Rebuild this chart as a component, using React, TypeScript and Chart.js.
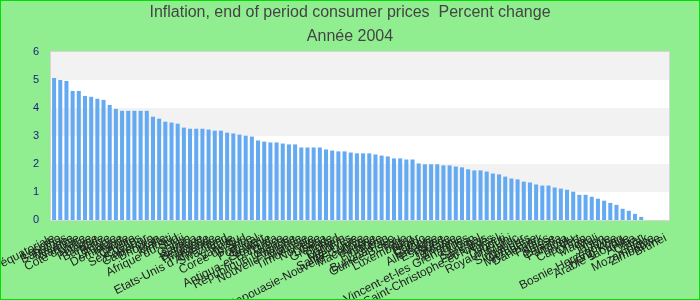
import React, { useEffect, useRef } from "react";
import { Chart, registerables } from "chart.js";

Chart.register(...registerables);

const titleLines = ["Inflation, end of period consumer prices  Percent change", "Année 2004"];

const countries = [
  "Guinée équatoriale", "Lesotho", "Bahamas", "Maurice", "Namibie",
  "Côte d'Ivoire", "Tunisie", "Pologne", "Barbade", "Belize",
  "Lituanie", "Dominique", "Irlande", "Chypre", "Seychelles",
  "Salvador", "Cameroun", "Bhoutan", "Malte", "Kiribati",
  "Afrique du Sud", "Fidji", "Gabon", "Samoa", "Belgique",
  "Thaïlande", "Islande", "Etats-Unis d'Amérique", "Swaziland", "Italie",
  "Vanuatu", "Corée du Sud", "France", "Portugal", "Koweït",
  "Slovénie", "Antigua-et-Barbuda", "Grèce", "République tchèque", "Autriche",
  "Nouvelle-Zélande", "Malaisie", "Timor-Leste", "Norvège", "Libéria",
  "Grenade", "Tchad", "Bahreïn", "Maldives", "Sainte-Lucie",
  "Papouasie-Nouvelle-Guinée", "Macédoine", "Algérie", "Finlande", "Bénin",
  "Burkina Faso", "Guinée-Bissau", "Togo", "Luxembourg", "Niger",
  "Congo", "Estonie", "Allemagne", "Espagne", "Suède",
  "Jordanie", "Arménie", "Saint-Vincent-et-les Grenadines", "Liban", "Sénégal",
  "Pays-Bas", "Saint-Christophe-et-Niévès", "Israël", "Djibouti", "Royaume-Uni",
  "Maroc", "Singapour", "Comores", "Micronésie", "Danemark",
  "Palaos", "Suisse", "Canada", "Panama", "Tuvalu",
  "Cap-Vert", "Oman", "Macao", "Mali", "Japon",
  "Libye", "Bosnie-Herzégovine", "Hong Kong", "Arabie saoudite", "Aruba",
  "Qatar", "Irak", "Mozambique", "Zimbabwe", "Brunei",
];

const values = [
  5.07, 5.0, 4.96, 4.61, 4.61, 4.43, 4.4, 4.33, 4.29, 4.11,
  3.97, 3.9, 3.9, 3.9, 3.9, 3.9, 3.69, 3.62, 3.51, 3.48,
  3.44, 3.3, 3.26, 3.26, 3.26, 3.23, 3.19, 3.19, 3.12, 3.09,
  3.05, 3.01, 2.98, 2.84, 2.8, 2.77, 2.77, 2.73, 2.7, 2.7,
  2.59, 2.59, 2.59, 2.59, 2.52, 2.48, 2.45, 2.45, 2.41, 2.38,
  2.38, 2.38, 2.34, 2.3, 2.27, 2.2, 2.2, 2.16, 2.16, 2.02,
  1.99, 1.99, 1.99, 1.95, 1.95, 1.91, 1.88, 1.81, 1.77, 1.77,
  1.73, 1.66, 1.63, 1.55, 1.48, 1.45, 1.37, 1.34, 1.27, 1.23,
  1.23, 1.16, 1.12, 1.08, 1.01, 0.9, 0.9, 0.83, 0.76, 0.69,
  0.61, 0.54, 0.4, 0.33, 0.22, 0.11, null, null, null, null,
];

const yMin = 0;
const yMax = 6;
const yStep = 1;

export default function App() {
  const ref = useRef<HTMLCanvasElement>(null);

  useEffect(() => {
    document.body.style.margin = "0";
    const canvas = ref.current;
    if (!canvas) return;

    const bgPlugin = {
      id: "bgPlugin",
      beforeDraw(chart: any) {
        const { ctx, width, height, chartArea: a, scales } = chart;
        ctx.save();
        ctx.fillStyle = "#90ee90";
        ctx.fillRect(0, 0, width, height);
        const y = scales.y;
        const ticks = y.ticks;
        for (let i = 0; i < ticks.length - 1; i++) {
          const bot = y.getPixelForValue(ticks[i].value);
          const top = y.getPixelForValue(ticks[i + 1].value);
          ctx.fillStyle = i % 2 === 0 ? "#ffffff" : "#f2f2f2";
          ctx.fillRect(a.left, top, a.right - a.left, bot - top);
        }
        ctx.fillStyle = "#444444";
        ctx.font = "16px 'Liberation Sans', Arial, sans-serif";
        ctx.textAlign = "center";
        ctx.textBaseline = "middle";
        titleLines.forEach((t, i) => ctx.fillText(t, width / 2, 13 + i * 24));
        ctx.restore();
      },
      afterDraw(chart: any) {
        const { ctx, width, height, chartArea: a } = chart;
        ctx.save();
        ctx.strokeStyle = "#d6d6d6";
        ctx.lineWidth = 1;
        ctx.strokeRect(a.left - 0.5, a.top - 0.5, a.right - a.left + 1, a.bottom - a.top + 1);
        ctx.strokeStyle = "#00e000";
        ctx.lineWidth = 2;
        ctx.strokeRect(0, 0, width, height);
        ctx.restore();
      },
    };

    const chart = new Chart(canvas, {
      type: "bar",
      data: {
        labels: countries,
        datasets: [
          {
            data: values as any,
            backgroundColor: "#64aaf2",
            borderWidth: 0,
            categoryPercentage: 1,
            barPercentage: 0.65,
          },
        ],
      },
      options: {
        responsive: false,
        animation: false,
        layout: { padding: { left: 0, right: 31, top: 52, bottom: 0 } },
        plugins: {
          legend: { display: false },
          tooltip: { enabled: false },
          title: { display: false },
        },
        scales: {
          x: {
            grid: { display: false, drawTicks: false },
            border: { display: false },
            ticks: {
              autoSkip: false,
              minRotation: 27,
              maxRotation: 27,
              padding: 11,
              color: "#222222",
              font: { family: "'Liberation Sans', Arial, sans-serif", size: 12 },
            },
            afterFit(s: any) {
              s.height = 80;
              s.paddingLeft = 0;
              s.paddingRight = 0;
            },
          },
          y: {
            min: yMin,
            max: yMax,
            grid: { display: false, drawTicks: false },
            border: { display: false },
            ticks: {
              stepSize: yStep,
              padding: 12,
              color: "#1a1a80",
              font: { family: "'Liberation Sans', Arial, sans-serif", size: 11 },
            },
            afterFit(s: any) {
              s.width = 51;
              s.paddingTop = 0;
              s.paddingBottom = 0;
            },
          },
        },
      },
      plugins: [bgPlugin],
    });

    return () => chart.destroy();
  }, []);

  return <canvas ref={ref} width={700} height={300} style={{ display: "block" }} />;
}
